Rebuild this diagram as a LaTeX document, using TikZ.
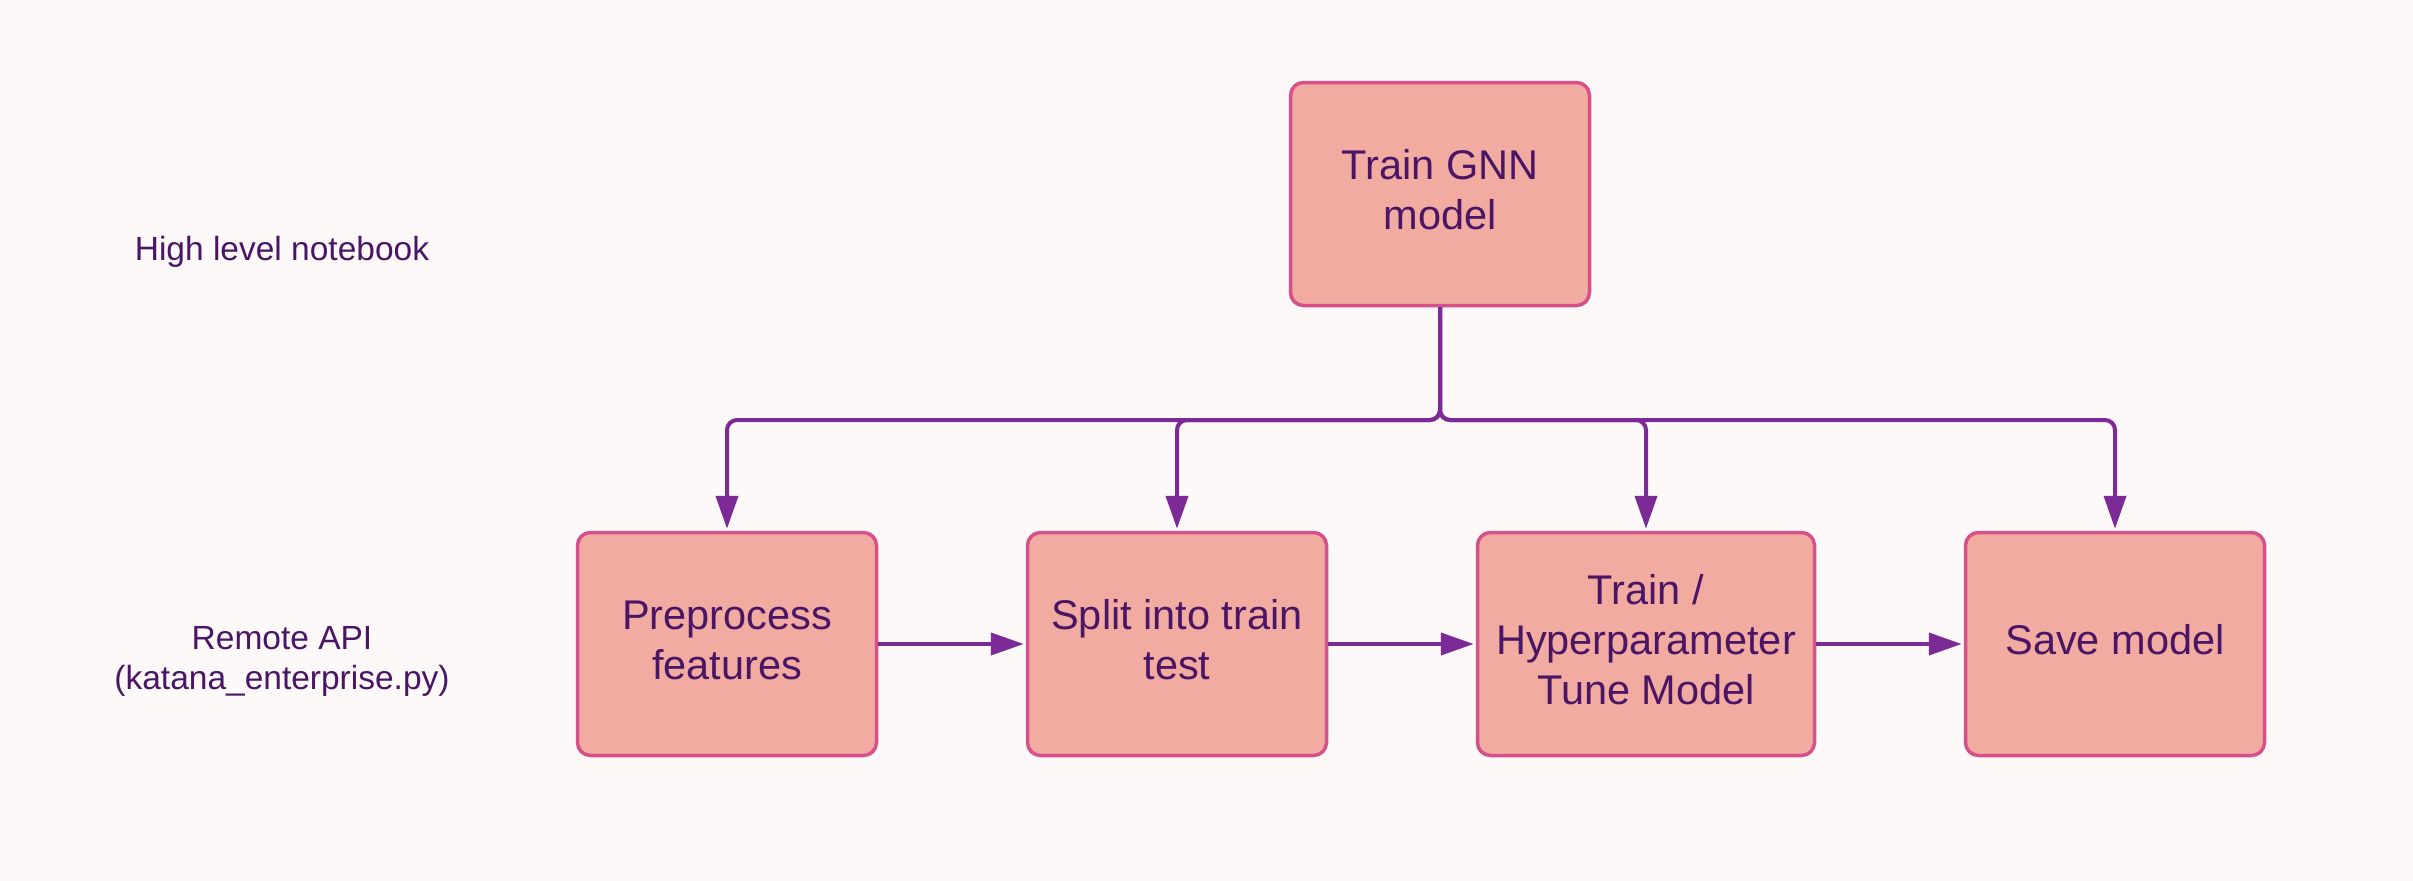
\documentclass[tikz,border=0pt]{standalone}
\usepackage{fontspec}
\setmainfont{Liberation Sans}
\usetikzlibrary{arrows.meta}
\definecolor{bgc}{HTML}{FDF9F8}
\definecolor{boxfill}{HTML}{F1ABA1}
\definecolor{boxline}{HTML}{D6508A}
\definecolor{arrc}{HTML}{7B2A96}
\definecolor{txtc}{HTML}{4B1565}
\tikzset{
  stepbox/.style={draw=boxline, fill=boxfill, line width=3.5pt, rounded corners=13pt,
    minimum height=223pt, inner sep=0pt},
  boxtext/.style={align=center, text=txtc, inner sep=0pt, yshift=4pt,
    font=\fontsize{41.5}{50}\selectfont},
  sidelabel/.style={align=center, text=txtc, font=\fontsize{33.5}{40}\selectfont},
  flow/.style={draw=arrc, line width=4pt, rounded corners=10pt,
    -{Triangle[length=33pt,width=22pt]}, shorten >=2pt},
}
\begin{document}
\begin{tikzpicture}[x=1pt,y=-1pt]
\useasboundingbox[fill=bgc] (0,0) rectangle (2413,881);
\node[sidelabel] (hl) at (282,252) {High level notebook};
\node[sidelabel] (ra) at (282,661) {Remote API\\(katana\_enterprise.py)};
\node[stepbox, minimum width=299pt, label={[boxtext]center:{Train GNN\\model}}] (top) at (1440,194) {};
\node[stepbox, minimum width=299pt, label={[boxtext]center:{Preprocess\\features}}] (b1) at (727,644) {};
\node[stepbox, minimum width=299pt, label={[boxtext]center:{Split into train\\test}}] (b2) at (1177,644) {};
\node[stepbox, minimum width=337pt, label={[boxtext]center:{Train /\\Hyperparameter\\Tune Model}}] (b3) at (1646,644) {};
\node[stepbox, minimum width=299pt, label={[boxtext]center:{Save model}}] (b4) at (2115,644) {};
\coordinate (bus) at (1440,420);
\draw[flow] (top.south) -- (bus) -| (b1.north);
\draw[flow] (top.south) -- (bus) -| (b2.north);
\draw[flow] (top.south) -- (bus) -| (b3.north);
\draw[flow] (top.south) -- (bus) -| (b4.north);
\draw[flow] (b1.east) -- (b2.west);
\draw[flow] (b2.east) -- (b3.west);
\draw[flow] (b3.east) -- (b4.west);
\end{tikzpicture}
\end{document}
